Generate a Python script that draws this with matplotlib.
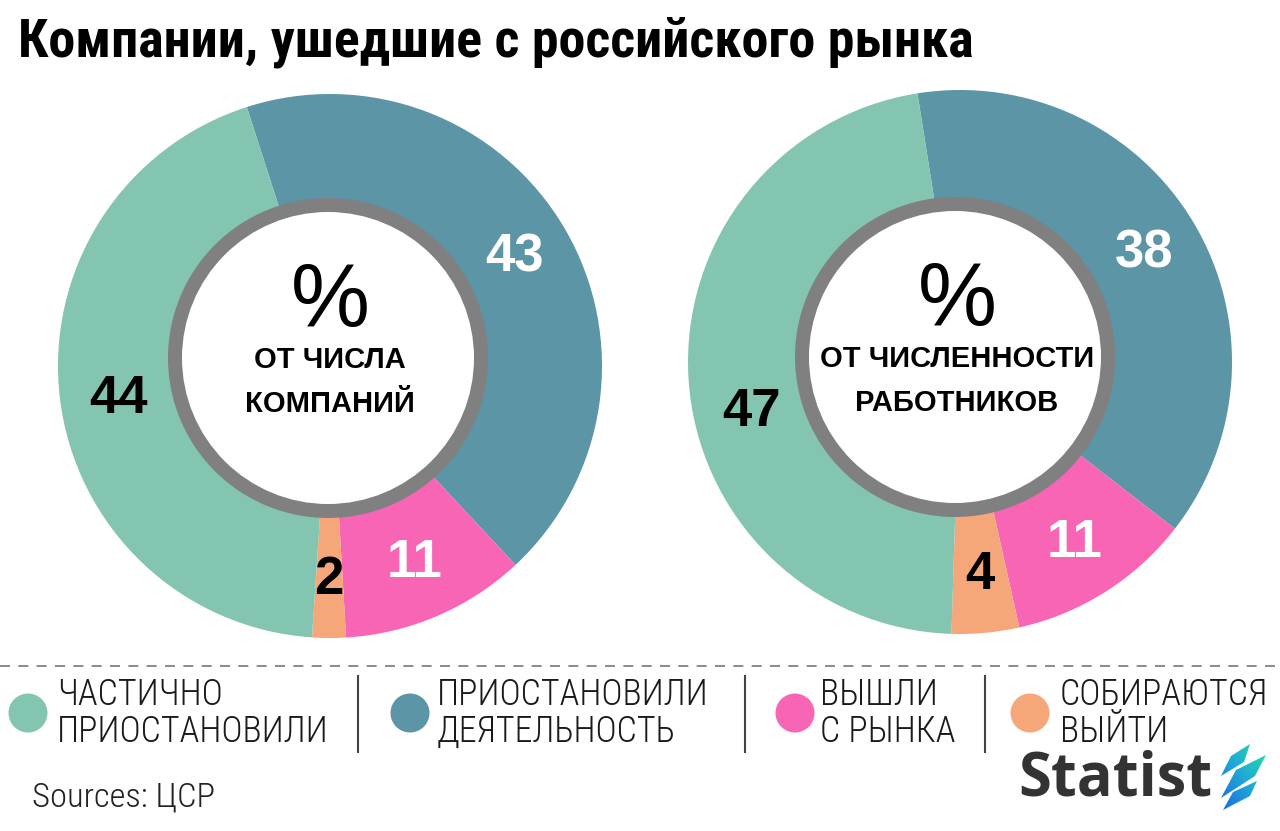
import numpy as np
import matplotlib
matplotlib.use('Agg')
import matplotlib.pyplot as plt
from matplotlib import font_manager as fm
from matplotlib.patches import Circle, Polygon
from matplotlib.colors import LinearSegmentedColormap

# data
title = 'Компании, ушедшие с российского рынка'
categories = ['ЧАСТИЧНО\nПРИОСТАНОВИЛИ', 'ПРИОСТАНОВИЛИ\nДЕЯТЕЛЬНОСТЬ', 'ВЫШЛИ\nС РЫНКА', 'СОБИРАЮТСЯ\nВЫЙТИ']
colors = ['#84c5b1', '#5b95a6', '#f865b5', '#f6a77a']
companies = [44, 43, 11, 2]
workers = [47, 38, 11, 4]
center_labels = [['ОТ ЧИСЛА', 'КОМПАНИЙ'], ['ОТ ЧИСЛЕННОСТИ', 'РАБОТНИКОВ']]
source = 'Sources: ЦСР'

W, H = 1280, 831

names = {f.name for f in fm.fontManager.ttflist}
def pick(*cands):
    for c in cands:
        if c in names:
            return c
    return 'DejaVu Sans'

narrow = pick('Roboto Condensed', 'Liberation Sans Narrow', 'Open Sans Condensed')
narrow_kw = {'family': narrow} if narrow != 'DejaVu Sans' else {'family': 'DejaVu Sans', 'stretch': 'condensed'}
sans = pick('Liberation Sans', 'Roboto', 'DejaVu Sans')
logo_font = pick('Open Sans', 'Lato', 'DejaVu Sans')

fig = plt.figure(figsize=(W / 100, H / 100), dpi=100)
ax = fig.add_axes([0, 0, 1, 1])


def Y(y):
    return H - y


def fit(t, width):
    # scale a text so that it spans `width` pixels
    fig.canvas.draw()
    w = t.get_window_extent().width
    t.set_fontsize(t.get_fontsize() * width / w)


def donut(values, cx, cy, start, inner_c, lines, label_off):
    # pie order: dark teal, pink, orange, light teal (clockwise from top)
    order = [1, 2, 3, 0]
    vals = [values[i] for i in order]
    cols = [colors[i] for i in order]
    R = 272
    wedges, _ = ax.pie(vals, colors=cols, startangle=start, counterclock=False,
                       radius=R, center=(cx, Y(cy)),
                       wedgeprops=dict(width=130, linewidth=0))
    for k, (wd, v) in enumerate(zip(wedges, vals)):
        mid = np.deg2rad((wd.theta1 + wd.theta2) / 2 + label_off[k])
        tc = 'white' if order[k] in (1, 2) else 'black'
        ax.text(cx + 214 * np.cos(mid), Y(cy) + 214 * np.sin(mid), str(v),
                ha='center', va='center', fontsize=38, color=tc,
                family=sans, weight='bold', zorder=5)
    icx, icy = inner_c
    ax.add_patch(Circle((icx, Y(icy)), 160, color='#808080', lw=0, zorder=3))
    ax.add_patch(Circle((icx, Y(icy)), 146, color='white', lw=0, zorder=4))
    ax.text(icx + 2, Y(icy - 55), '%', ha='center', va='center', fontsize=64,
            family=sans, color='black', zorder=5)
    for j, ln in enumerate(lines):
        ax.text(icx + 2, Y(icy + 2 + j * 44), ln, ha='center', va='center',
                fontsize=21, family=sans, weight='bold', color='black', zorder=5)


donut(companies, 330, 366, 107.8, (328, 358), center_labels[0], [0, 0, 0, 2])
donut(workers, 960, 362, 99, (955, 357), center_labels[1], [0, 0, 0, 10])

t = ax.text(18, Y(42), title, ha='left', va='center', fontsize=34,
            weight='bold', color='black', **narrow_kw)
fit(t, 957)

# legend
ax.plot([0, W], [Y(666), Y(666)], color='#777777', lw=1.2, dashes=(6, 5))
for x in [358, 745, 985]:
    ax.plot([x, x], [Y(676), Y(752)], color='#444444', lw=1.5)
circle_x = [28, 410, 795, 1030]
text_x = [57, 437, 820, 1060]
leg_texts = []
for cx, tx, lab, col in zip(circle_x, text_x, categories, colors):
    ax.add_patch(Circle((cx, Y(713)), 19.5, color=col, lw=0))
    for j, ln in enumerate(lab.split('\n')):
        leg_texts.append(ax.text(tx, Y(695 + j * 37), ln, ha='left', va='center',
                                 fontsize=22, color='#1a1a1a', weight='light',
                                 **narrow_kw))
fit(leg_texts[1], 271)
for lt in leg_texts:
    lt.set_fontsize(leg_texts[1].get_fontsize())

s = ax.text(32, Y(798), source, ha='left', va='center', fontsize=18,
            color='#222222', weight='light', **narrow_kw)
fit(s, 183)

# logo
lg = ax.text(1018, Y(780), 'Statist', ha='left', va='center', fontsize=48,
             weight='bold', color='#333333', family=logo_font)
fit(lg, 194)
leaves = [
    [(1221, 776), (1231, 756), (1250, 744), (1244, 762)],
    [(1221, 798), (1236, 770), (1266, 755), (1255, 776)],
    [(1223, 810), (1233, 792), (1257, 781), (1250, 796)],
]
cmap = LinearSegmentedColormap.from_list('lg', ['#1b63e0', '#1fa8d8', '#22e6a0'])
grad = np.linspace(0, 1, 64)[None, :] * np.ones((64, 1))
grad = (grad + np.linspace(0, 1, 64)[:, None]) / 2
for lf in leaves:
    poly = Polygon([(x, Y(y)) for x, y in lf], closed=True, facecolor='none', lw=0)
    ax.add_patch(poly)
    im = ax.imshow(grad, cmap=cmap, extent=(1218, 1268, Y(812), Y(743)),
                   origin='lower', zorder=6, aspect='auto')
    im.set_clip_path(poly)

ax.set_xlim(0, W)
ax.set_ylim(0, H)
ax.set_aspect('auto')
ax.axis('off')
fig.savefig('out.png', dpi=100, facecolor='white')
